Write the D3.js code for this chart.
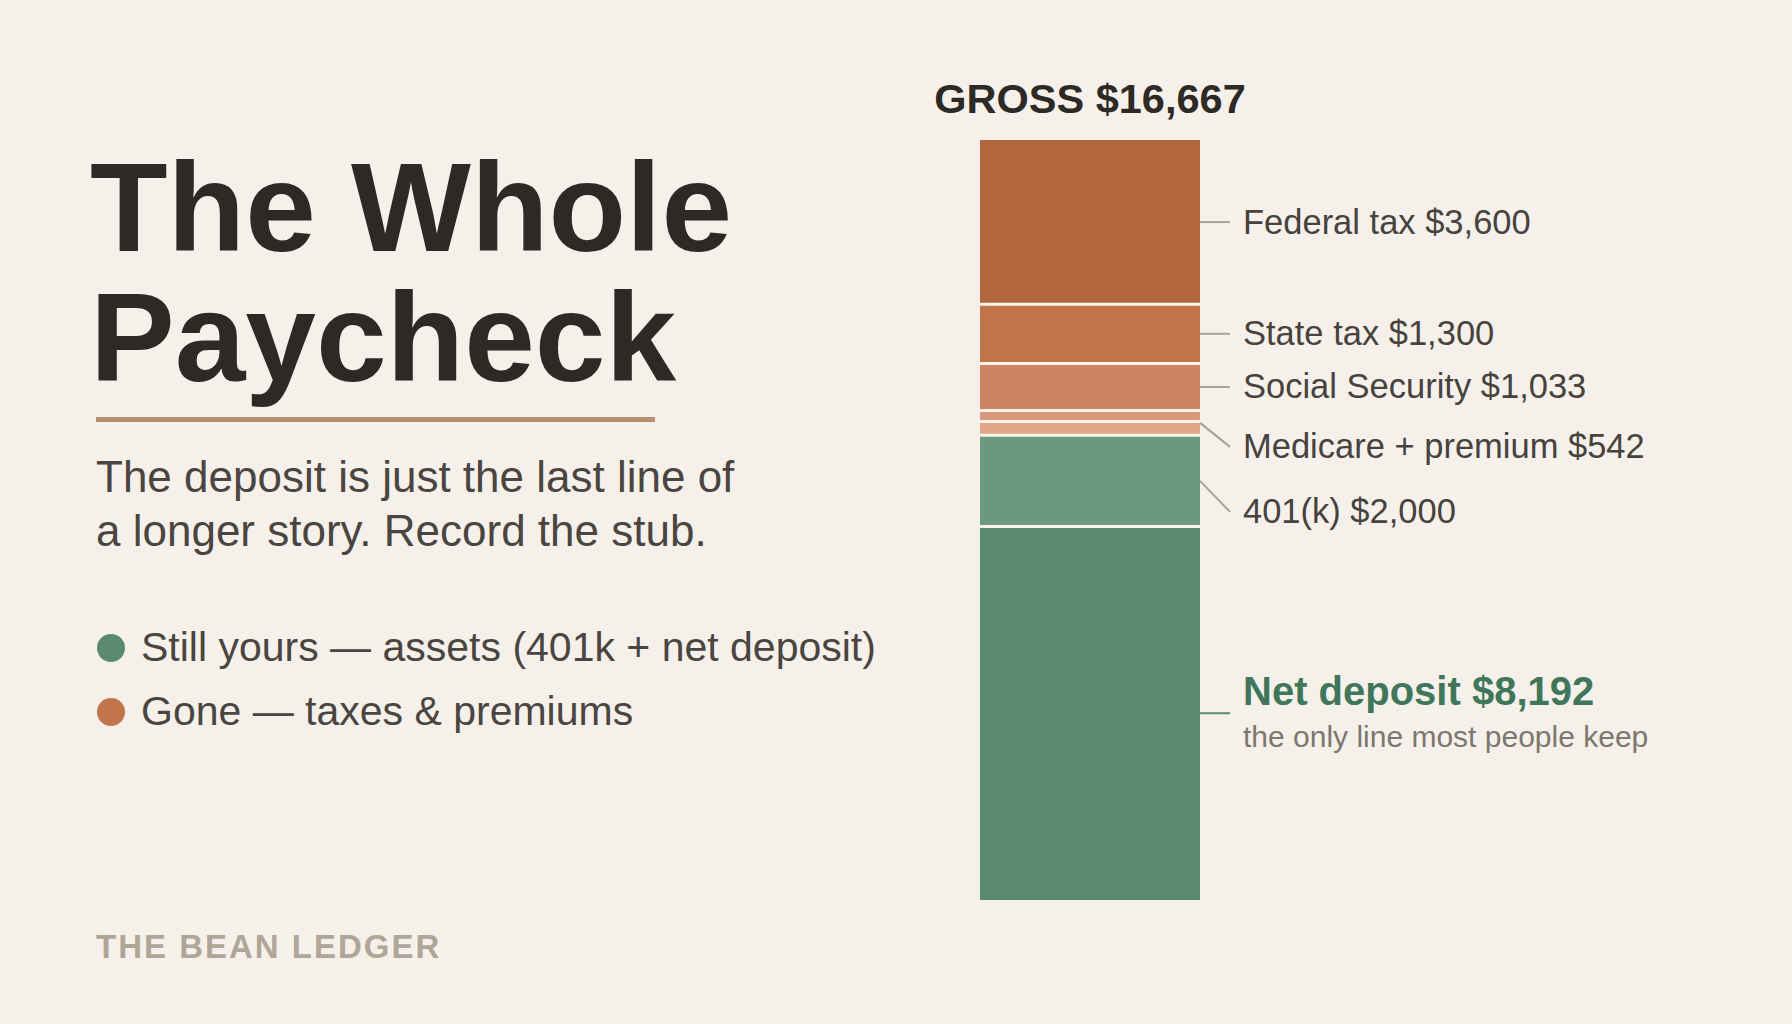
<!DOCTYPE html>
<html>
<head>
<meta charset="utf-8">
<script src="https://cdn.jsdelivr.net/npm/d3@7"></script>
<style>
  html, body { margin: 0; padding: 0; background: #f5f1ea; }
  svg { display: block; font-family: "Liberation Sans", Arial, Helvetica, sans-serif; }
</style>
</head>
<body>
<div id="chart"></div>
<script>
// paycheck lines, top of the stack first
var items   = ["Federal tax", "State tax", "Social Security", "Medicare", "Premium", "401(k)", "Net deposit"];
var amounts = [3600, 1300, 1033, 242, 300, 2000, 8192];
var kinds   = ["gone", "gone", "gone", "gone", "gone", "kept", "kept"];

// labels beside the bar and the lines they cover
var labelNames   = ["Federal tax", "State tax", "Social Security", "Medicare + premium", "401(k)", "Net deposit"];
var labelMembers = [["Federal tax"], ["State tax"], ["Social Security"], ["Medicare", "Premium"], ["401(k)"], ["Net deposit"]];

var legendLabels = ["Still yours \u2014 assets (401k + net deposit)", "Gone \u2014 taxes & premiums"];
var legendKinds  = ["kept", "gone"];

// styles
var fill = {
  "Federal tax": "#b3673f",
  "State tax": "#c0754a",
  "Social Security": "#cc8462",
  "Medicare": "#d9987a",
  "Premium": "#e0a487",
  "401(k)": "#6a9980",
  "Net deposit": "#5b8a72"
};
var kindColor = { kept: "#5b8a72", gone: "#c0754a" };
var labelNudge = { "Medicare + premium": 24, "401(k)": 31 };

var width = 1792, height = 1024;
var fmt = d3.format("$,");

var svg = d3.select("#chart")
  .append("svg")
    .attr("width", width)
    .attr("height", height);

svg.append("rect")
  .attr("width", width)
  .attr("height", height)
  .attr("fill", "#f5f1ea");

// ---- left side: title, deck, legend
svg.append("text")
  .attr("x", 90).attr("y", 251)
  .attr("font-size", 127).attr("font-weight", 700)
  .attr("fill", "#2d2a26")
  .text("The Whole");
svg.append("text")
  .attr("x", 90).attr("y", 381)
  .attr("font-size", 127).attr("font-weight", 700)
  .attr("fill", "#2d2a26")
  .text("Paycheck");

svg.append("rect")
  .attr("x", 96).attr("y", 417)
  .attr("width", 559).attr("height", 5)
  .attr("fill", "#b5916f");

var deck = ["The deposit is just the last line of", "a longer story. Record the stub."];
svg.selectAll(".deck")
  .data(deck)
  .enter().append("text")
    .attr("class", "deck")
    .attr("x", 96)
    .attr("y", function(d, i) { return 492 + i * 54; })
    .attr("font-size", 44)
    .attr("fill", "#4a4540")
    .text(function(d) { return d; });

var legend = svg.selectAll(".legend")
  .data(legendLabels)
  .enter().append("g")
    .attr("class", "legend")
    .attr("transform", function(d, i) { return "translate(111," + (648 + i * 64) + ")"; });
legend.append("circle")
  .attr("r", 14)
  .attr("fill", function(d, i) { return kindColor[legendKinds[i]]; });
legend.append("text")
  .attr("x", 30).attr("y", 13)
  .attr("font-size", 41)
  .attr("fill", "#4a4540")
  .text(function(d) { return d; });

svg.append("text")
  .attr("x", 96).attr("y", 958)
  .attr("font-size", 33).attr("font-weight", 700)
  .attr("letter-spacing", 2)
  .attr("fill", "#b0a698")
  .text("THE BEAN LEDGER");

// ---- the stacked bar
var gross = d3.sum(amounts);
var segs = [];
var acc = 0;
items.forEach(function(name, i) {
  segs.push({ name: name, value: amounts[i], kind: kinds[i], y0: acc, y1: acc + amounts[i] });
  acc += amounts[i];
});

var x0 = 980, barW = 220;
var y = d3.scaleLinear().domain([0, gross]).range([140, 900]);

svg.append("text")
  .attr("x", x0 + barW / 2).attr("y", 113)
  .attr("text-anchor", "middle")
  .attr("font-size", 41.5).attr("font-weight", 700)
  .attr("fill", "#2d2a26")
  .text("GROSS " + fmt(gross));

svg.selectAll(".seg")
  .data(segs)
  .enter().append("rect")
    .attr("class", "seg")
    .attr("x", x0)
    .attr("width", barW)
    .attr("y", function(d) { return y(d.y0); })
    .attr("height", function(d) { return y(d.y1) - y(d.y0); })
    .attr("fill", function(d) { return fill[d.name]; });

// thin light gaps between lines
svg.selectAll(".gap")
  .data(segs.slice(1))
  .enter().append("line")
    .attr("class", "gap")
    .attr("x1", x0).attr("x2", x0 + barW)
    .attr("y1", function(d) { return y(d.y0); })
    .attr("y2", function(d) { return y(d.y0); })
    .attr("stroke", "#faf4ec")
    .attr("stroke-width", 3);

// ---- labels
var labels = labelNames.map(function(name, i) {
  var mem = segs.filter(function(s) { return labelMembers[i].indexOf(s.name) >= 0; });
  var top = d3.min(mem, function(s) { return s.y0; });
  var bot = d3.max(mem, function(s) { return s.y1; });
  var mid = (y(top) + y(bot)) / 2;
  return {
    name: name,
    total: d3.sum(mem, function(s) { return s.value; }),
    mid: mid,
    ly: mid + (labelNudge[name] || 0)
  };
});

var lab = svg.selectAll(".lab")
  .data(labels)
  .enter().append("g")
    .attr("class", "lab");

lab.append("line")
  .attr("x1", x0 + barW).attr("x2", x0 + barW + 30)
  .attr("y1", function(d) { return d.mid; })
  .attr("y2", function(d) { return d.ly; })
  .attr("stroke", function(d) { return d.name === "Net deposit" ? "#5b8a72" : "#aaa294"; })
  .attr("stroke-width", 2);

lab.filter(function(d) { return d.name !== "Net deposit"; })
  .append("text")
    .attr("x", x0 + barW + 43)
    .attr("y", function(d) { return d.ly + 11.5; })
    .attr("font-size", 34.5)
    .attr("fill", "#47423d")
    .text(function(d) { return d.name + " " + fmt(d.total); });

var net = lab.filter(function(d) { return d.name === "Net deposit"; });
net.append("text")
  .attr("x", x0 + barW + 43)
  .attr("y", function(d) { return d.ly - 8; })
  .attr("font-size", 40).attr("font-weight", 700)
  .attr("fill", "#40765a")
  .text(function(d) { return d.name + " " + fmt(d.total); });
net.append("text")
  .attr("x", x0 + barW + 43)
  .attr("y", function(d) { return d.ly + 34; })
  .attr("font-size", 30)
  .attr("fill", "#7d7770")
  .text("the only line most people keep");
</script>
</body>
</html>
